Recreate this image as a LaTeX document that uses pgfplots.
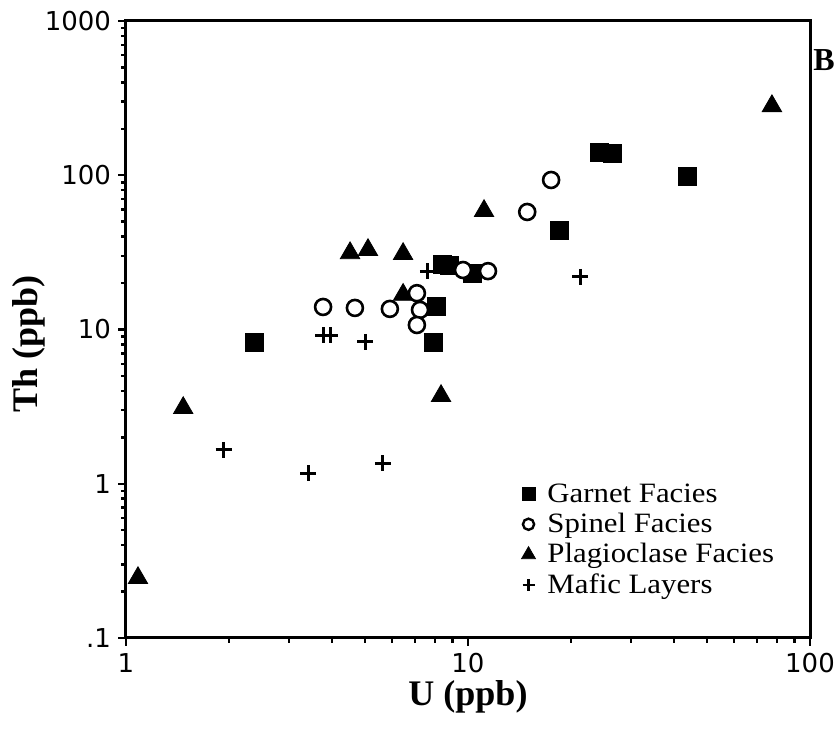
\documentclass[border=0pt]{standalone}
\usepackage{fontspec}
\setmainfont{Liberation Serif}
\newfontfamily\legfont[FakeStretch=1.1]{Liberation Serif}
\setsansfont{DejaVu Sans}
\usepackage{pgfplots}
\pgfplotsset{compat=1.18}
\begin{document}
\begin{tikzpicture}
\begin{axis}[name=ax, scale only axis, width=342pt, height=308.5pt,
  xmode=log, ymode=log, xmin=1, xmax=100, ymin=0.1, ymax=1000,
  axis line style={line width=1.5pt},
  tick align=outside, xtick pos=bottom, ytick pos=left,
  major tick length=4pt, minor tick length=2.5pt,
  every tick/.style={black, line width=1.2pt},
  xtick={1,10,100}, xticklabels={1,10,100},
  ytick={0.1,1,10,100,1000}, yticklabels={.1,1,10,100,1000},
  ticklabel style={font=\sffamily\fontsize{13}{15}\selectfont},
  xlabel={\textbf{U (ppb)}}, ylabel={\textbf{Th (ppb)}},
  label style={font=\fontsize{18}{20}\selectfont},
  ylabel style={at={(ticklabel cs:0.4765)}},
  ylabel shift=-7pt, xlabel shift=-3pt,
  legend style={at={(rel axis cs:0.569,0.264)}, anchor=north west, draw=none, fill=none,
    font=\legfont\fontsize{14}{16}\selectfont, row sep=0pt, column sep=4pt},
  legend cell align=left,
]
% Plagioclase
\addplot[only marks, mark=triangle*, mark size=5.6pt, black, forget plot] coordinates {
(1.084,0.245)(1.47,3.1)(4.52,31.3)(5.1,32.8)(6.46,30.9)(6.46,16.8)(8.34,3.71)(11.14,58.7)(77.4,281)};
% Mafic
\addplot[only marks, mark=+, mark size=4pt, black, line width=1.5pt, forget plot] coordinates {
(1.93,1.66)(3.41,1.17)(5.64,1.36)(3.77,9.2)(3.95,9.2)(5.0,8.3)(7.64,23.9)(21.3,21.9)};
% Garnet
\addplot[only marks, mark=square*, mark size=4.5pt, black, forget plot] coordinates {
(2.38,8.2)(7.9,8.2)(8.1,14.2)(8.4,26.6)(8.85,26)(10.3,23.2)(18.5,44.2)(24.3,141)(26.5,139)(43.7,99)};
% Spinel
\addplot[only marks, mark=*, mark size=4pt, black, line width=1.3pt, mark options={fill=white}, forget plot] coordinates {
(3.77,14.0)(4.67,13.8)(5.91,13.6)(7.09,17.2)(7.24,13.4)(7.09,10.7)(9.67,24.3)(11.44,23.9)(14.9,57.8)(17.5,93.2)};
\addlegendimage{only marks, mark=square*, mark size=3.2pt, black}
\addlegendentry{Garnet Facies}
\addlegendimage{only marks, mark=*, mark size=2.8pt, black, line width=1.2pt, mark options={fill=white}}
\addlegendentry{Spinel Facies}
\addlegendimage{only marks, mark=triangle*, mark size=4pt, black}
\addlegendentry{Plagioclase Facies}
\addlegendimage{only marks, mark=+, mark size=3pt, black, line width=1.2pt}
\addlegendentry{Mafic Layers}
\end{axis}
\node[font=\bfseries\fontsize{16}{18}\selectfont, anchor=west, inner sep=0pt] at ([shift={(1.5pt,-19.5pt)}]ax.north east) {B};
\pgfresetboundingbox
\path ([shift={(-63pt,-50pt)}]ax.south west) rectangle ([shift={(354.5pt,319pt)}]ax.south west);
\end{tikzpicture}
\end{document}
